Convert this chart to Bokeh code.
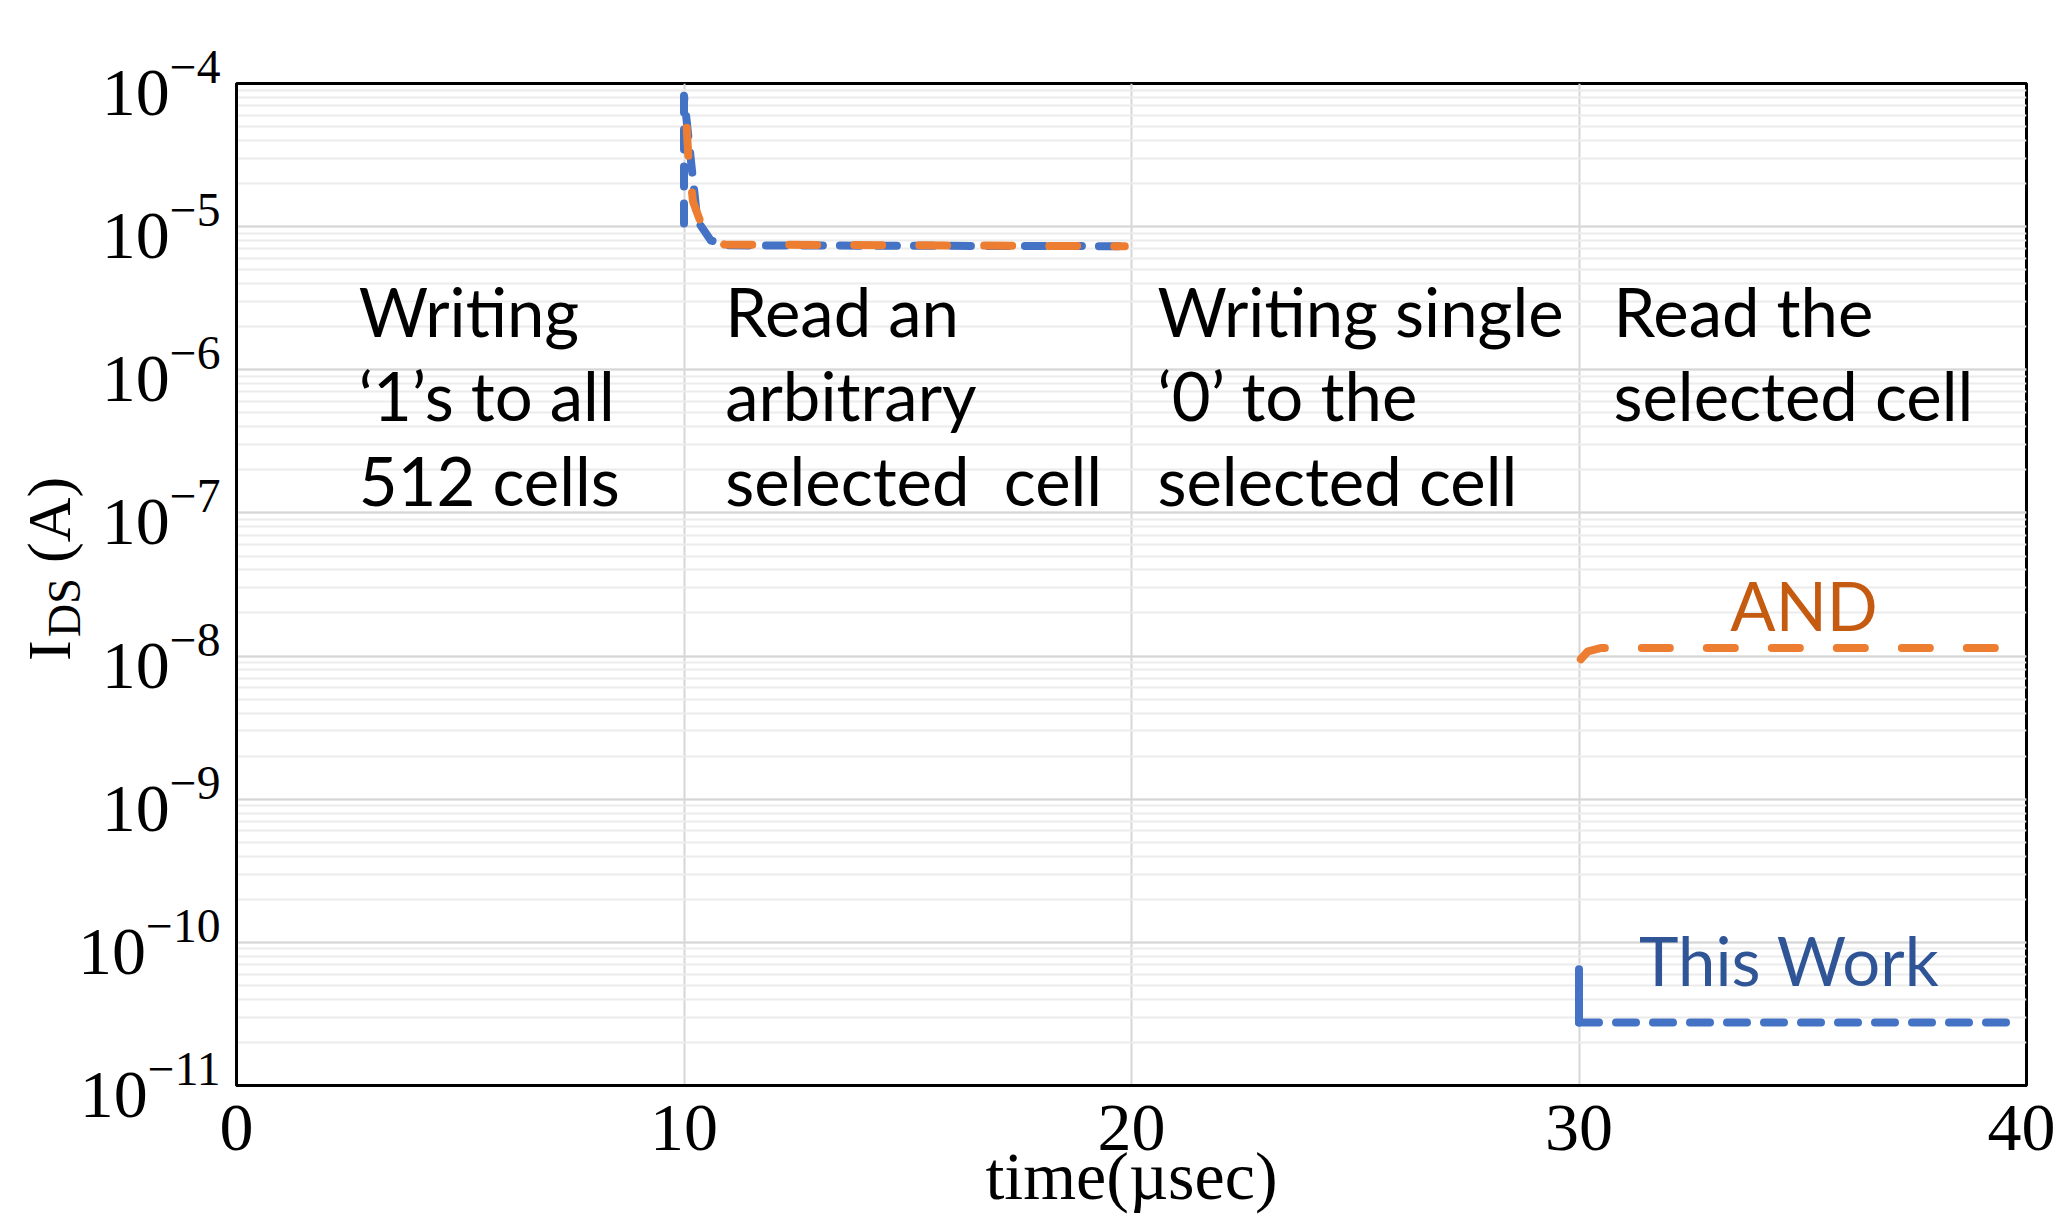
from bokeh.plotting import figure
from bokeh.models import Range1d, LogTicker, FixedTicker, LinearAxis
from bokeh.core.properties import value
from bokeh.embed import file_html
from bokeh.resources import INLINE

# ---- data ----
x_ticks = [0, 10, 20, 30, 40]

# Read phase 1 (10-20 us)
this_read1_t = [10.0, 10.0, 10.15, 10.3, 10.6, 11.0, 19.85]
this_read1_i = [1.05e-5, 8.2e-5, 3.0e-5, 1.1e-5, 8.0e-6, 7.4e-6, 7.3e-6]
and_read1_t = [10.06, 10.1, 10.2, 10.45, 10.9, 19.85]
and_read1_i = [4.9e-5, 3.0e-5, 1.5e-5, 9.2e-6, 7.5e-6, 7.3e-6]

# Read phase 2 (30-40 us)
this_read2_t = [30.0, 30.0, 39.9]
this_read2_i = [6.5e-11, 2.75e-11, 2.75e-11]
and_read2_t = [30.04, 30.2, 30.5, 39.6]
and_read2_i = [9.5e-9, 1.08e-8, 1.14e-8, 1.14e-8]

NB = "\u00a0"
phase_texts = [
    ["Writing", "\u20181\u2019s to all", "512 cells"],
    ["Read an", "arbitrary", "selected" + NB + " cell"],
    ["Writing single", "\u20180\u2019 to the", "selected cell"],
    ["Read the", "selected cell"],
]
phase_x = [2.73, 10.92, 20.58, 30.77]
line_y = [10 ** -5.586, 10 ** -6.178, 10 ** -6.768]

BLUE = "#4472C4"
ORANGE = "#ED7D31"

p = figure(width=2055, height=1216,
           x_range=Range1d(0, 40), y_range=Range1d(1e-11, 1e-4),
           y_axis_type="log", output_backend="svg", toolbar_location=None,
           min_border_left=236, min_border_right=29, min_border_top=83,
           min_border_bottom=128)

p.background_fill_color = "white"
p.border_fill_color = "white"
p.outline_line_color = "black"
p.outline_line_width = 3

# axes
p.xaxis.ticker = FixedTicker(ticks=x_ticks)
p.yaxis.ticker = LogTicker(desired_num_ticks=10, num_minor_ticks=10)
for ax in (p.xaxis[0], p.yaxis[0]):
    ax.axis_line_color = "black"
    ax.axis_line_width = 3
    ax.major_tick_line_color = None
    ax.minor_tick_line_color = None
    ax.major_tick_out = 0
    ax.minor_tick_out = 0
    ax.major_label_text_font = "Liberation Serif"
    ax.major_label_text_font_size = "68px"
    ax.major_label_text_color = "black"
p.xaxis.major_label_standoff = 20
p.yaxis.major_label_standoff = 16

p.xaxis.axis_label = "time(\u00b5sec)"
p.xaxis.axis_label_text_font = "Liberation Serif"
p.xaxis.axis_label_text_font_size = "68px"
p.xaxis.axis_label_text_font_style = "normal"
p.xaxis.axis_label_text_color = "black"
p.xaxis.axis_label_standoff = -15

# y label: I_DS(A) -> subscript on the main axis, the rest on an outer axis
p.yaxis.axis_label = "DS" + NB * 4
p.yaxis.axis_label_text_font = "Liberation Serif"
p.yaxis.axis_label_text_font_size = "46px"
p.yaxis.axis_label_text_font_style = "normal"
p.yaxis.axis_label_text_color = "black"
p.yaxis.axis_label_standoff = -15

p.extra_y_ranges = {"label": Range1d(0, 1)}
outer = LinearAxis(y_range_name="label", ticker=FixedTicker(ticks=[]),
                   axis_label=NB * 2 + "I" + NB * 5 + "(A)",
                   axis_label_text_font="Liberation Serif",
                   axis_label_text_font_size="62px",
                   axis_label_text_font_style="normal",
                   axis_label_text_color="black",
                   axis_label_standoff=-46,
                   axis_line_color=None, major_tick_line_color=None,
                   minor_tick_line_color=None, major_tick_out=0, minor_tick_out=0)
p.add_layout(outer, "left")

# grid
p.xgrid.grid_line_color = "#d6d6d6"
p.xgrid.grid_line_width = 2
p.ygrid.grid_line_color = "#d6d6d6"
p.ygrid.grid_line_width = 2
p.ygrid.minor_grid_line_color = "#ececec"
p.ygrid.minor_grid_line_width = 2

# lines
lw = 8
p.line(this_read1_t, this_read1_i, line_color=BLUE, line_width=lw,
       line_dash="20 17", line_cap="round", line_join="round")
p.line(this_read2_t[:2], this_read2_i[:2], line_color=BLUE, line_width=lw,
       line_cap="round", line_join="round")
p.line(this_read2_t[1:], this_read2_i[1:], line_color=BLUE, line_width=lw,
       line_dash="20 17", line_cap="round", line_join="round")
p.line(and_read1_t, and_read1_i, line_color=ORANGE, line_width=lw,
       line_dash="28 37", line_cap="round", line_join="round")
p.line(and_read2_t, and_read2_i, line_color=ORANGE, line_width=lw,
       line_dash="28 37", line_cap="round", line_join="round")

# phase annotations
for xs, lines in zip(phase_x, phase_texts):
    p.text(x=[xs] * len(lines), y=line_y[:len(lines)], text=lines,
           text_font=value("Lato"), text_font_size="67px",
           text_color="black", text_align="left", text_baseline="alphabetic")

p.text(x=[35.03], y=[10 ** -7.64], text=["AND"], text_font=value("Lato"),
       text_font_size="67px", text_color="#C55A11", text_align="center",
       text_baseline="alphabetic")
p.text(x=[34.7], y=[10 ** -10.12], text=["This Work"], text_font=value("Lato"),
       text_font_size="67px", text_color="#2F5597", text_align="center",
       text_baseline="alphabetic")

open("out.html", "w").write(file_html(p, INLINE))
